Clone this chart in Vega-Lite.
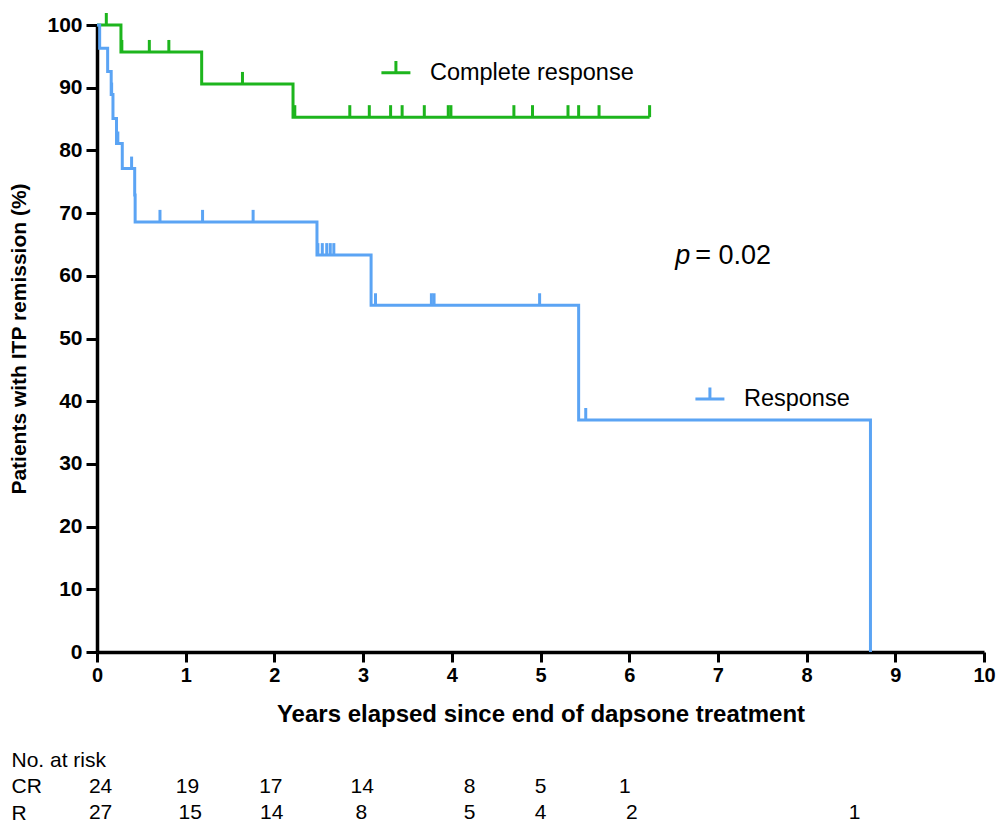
{
  "$schema": "https://vega.github.io/schema/vega-lite/v6.json",
  "padding": {"top": 13, "left": 8, "right": 10, "bottom": 0},
  "background": "white",
  "spacing": 23,
  "config": {"view": {"stroke": null}, "font": "Liberation Sans", "axis": {"grid": false}},
  "datasets": {
    "km": [
      {"group": "CR", "t": 0, "s": 100},
      {"group": "CR", "t": 0.27, "s": 95.7},
      {"group": "CR", "t": 1.18, "s": 90.6},
      {"group": "CR", "t": 2.21, "s": 85.3},
      {"group": "CR", "t": 6.23, "s": 85.3},
      {"group": "R", "t": 0, "s": 100},
      {"group": "R", "t": 0.03, "s": 96.3},
      {"group": "R", "t": 0.12, "s": 92.6},
      {"group": "R", "t": 0.16, "s": 88.9},
      {"group": "R", "t": 0.18, "s": 85.1},
      {"group": "R", "t": 0.22, "s": 81.1},
      {"group": "R", "t": 0.285, "s": 77.1},
      {"group": "R", "t": 0.425, "s": 72.9},
      {"group": "R", "t": 0.43, "s": 68.6},
      {"group": "R", "t": 2.48, "s": 63.3},
      {"group": "R", "t": 3.09, "s": 55.3},
      {"group": "R", "t": 5.43, "s": 37.0},
      {"group": "R", "t": 8.72, "s": 0}
    ],
    "censor": [
      {"group": "CR", "t": 0.105, "s": 100},
      {"group": "CR", "t": 0.28, "s": 95.7},
      {"group": "CR", "t": 0.59, "s": 95.7},
      {"group": "CR", "t": 0.81, "s": 95.7},
      {"group": "CR", "t": 1.64, "s": 90.6},
      {"group": "CR", "t": 2.23, "s": 85.3},
      {"group": "CR", "t": 2.85, "s": 85.3},
      {"group": "CR", "t": 3.07, "s": 85.3},
      {"group": "CR", "t": 3.31, "s": 85.3},
      {"group": "CR", "t": 3.44, "s": 85.3},
      {"group": "CR", "t": 3.69, "s": 85.3},
      {"group": "CR", "t": 3.96, "s": 85.3},
      {"group": "CR", "t": 3.99, "s": 85.3},
      {"group": "CR", "t": 4.70, "s": 85.3},
      {"group": "CR", "t": 4.91, "s": 85.3},
      {"group": "CR", "t": 5.31, "s": 85.3},
      {"group": "CR", "t": 5.43, "s": 85.3},
      {"group": "CR", "t": 5.66, "s": 85.3},
      {"group": "CR", "t": 6.23, "s": 85.3},
      {"group": "R", "t": 0.165, "s": 88.9},
      {"group": "R", "t": 0.235, "s": 81.1},
      {"group": "R", "t": 0.39, "s": 77.1},
      {"group": "R", "t": 0.71, "s": 68.6},
      {"group": "R", "t": 1.19, "s": 68.6},
      {"group": "R", "t": 1.76, "s": 68.6},
      {"group": "R", "t": 2.49, "s": 63.3},
      {"group": "R", "t": 2.54, "s": 63.3},
      {"group": "R", "t": 2.59, "s": 63.3},
      {"group": "R", "t": 2.63, "s": 63.3},
      {"group": "R", "t": 2.67, "s": 63.3},
      {"group": "R", "t": 3.14, "s": 55.3},
      {"group": "R", "t": 3.77, "s": 55.3},
      {"group": "R", "t": 3.80, "s": 55.3},
      {"group": "R", "t": 4.99, "s": 55.3},
      {"group": "R", "t": 5.51, "s": 37.0}
    ],
    "notes": [
      {"kind": "legend", "group": "CR", "label": "Complete response", "t": 3.37, "s": 92.4},
      {"kind": "legend", "group": "R", "label": "Response", "t": 6.91, "s": 40.35},
      {"kind": "pitalic", "group": "", "label": "p", "t": 6.52, "s": 63.2},
      {"kind": "pvalue", "group": "", "label": "= 0.02", "t": 6.745, "s": 63.2}
    ],
    "risk": [
      {"row": "CR", "t": 0.04, "n": "24"},
      {"row": "CR", "t": 1.02, "n": "19"},
      {"row": "CR", "t": 1.96, "n": "17"},
      {"row": "CR", "t": 2.99, "n": "14"},
      {"row": "CR", "t": 4.2, "n": "8"},
      {"row": "CR", "t": 5.0, "n": "5"},
      {"row": "CR", "t": 5.95, "n": "1"},
      {"row": "R", "t": 0.04, "n": "27"},
      {"row": "R", "t": 1.05, "n": "15"},
      {"row": "R", "t": 1.97, "n": "14"},
      {"row": "R", "t": 2.98, "n": "8"},
      {"row": "R", "t": 4.2, "n": "5"},
      {"row": "R", "t": 5.0, "n": "4"},
      {"row": "R", "t": 6.03, "n": "2"},
      {"row": "R", "t": 8.54, "n": "1"}
    ]
  },
  "vconcat": [
    {
      "width": 887,
      "height": 627,
      "encoding": {
        "x": {
          "field": "t", "type": "quantitative",
          "scale": {"domain": [0, 10], "nice": false},
          "title": "Years elapsed since end of dapsone treatment",
          "axis": {
            "values": [0, 1, 2, 3, 4, 5, 6, 7, 8, 9, 10],
            "domainWidth": 3.5, "domainColor": "black",
            "tickWidth": 3, "tickSize": 10, "tickColor": "black",
            "labelFontWeight": "bold", "labelFontSize": 20, "labelColor": "black",
            "labelPadding": 3, "labelFlush": false,
            "titleFontSize": 24, "titleFontWeight": "bold", "titleColor": "black",
            "titlePadding": 17
          }
        },
        "y": {
          "field": "s", "type": "quantitative",
          "scale": {"domain": [0, 100], "nice": false},
          "title": "Patients with ITP remission (%)",
          "axis": {
            "values": [0, 10, 20, 30, 40, 50, 60, 70, 80, 90, 100],
            "domainWidth": 3.5, "domainColor": "black",
            "tickWidth": 3, "tickSize": 11, "tickColor": "black",
            "labelFontWeight": "bold", "labelFontSize": 21, "labelColor": "black",
            "labelPadding": 4, "labelFlush": false,
            "titleFontSize": 21, "titleFontWeight": "bold", "titleColor": "black",
            "titlePadding": 17
          }
        }
      },
      "layer": [
        {
          "data": {"name": "km"},
          "mark": {"type": "line", "interpolate": "step-after", "strokeWidth": 3},
          "encoding": {
            "color": {"field": "group", "type": "nominal", "scale": {"domain": ["CR", "R"], "range": ["#1db51d", "#5ba4f4"]}, "legend": null}
          }
        },
        {
          "data": {"name": "censor"},
          "mark": {"type": "tick", "orient": "vertical", "thickness": 3, "size": 12, "yOffset": -6, "opacity": 1},
          "encoding": {
            "color": {"field": "group", "type": "nominal", "scale": {"domain": ["CR", "R"], "range": ["#1db51d", "#5ba4f4"]}, "legend": null}
          }
        },
        {
          "data": {"name": "notes"},
          "transform": [{"filter": "datum.kind === 'legend'"}],
          "mark": {"type": "point", "shape": "M-1,0H1M0,0V-0.8", "filled": false, "strokeWidth": 3, "size": 841, "opacity": 1},
          "encoding": {
            "color": {"field": "group", "type": "nominal", "scale": {"domain": ["CR", "R"], "range": ["#1db51d", "#5ba4f4"]}, "legend": null}
          }
        },
        {
          "data": {"name": "notes"},
          "transform": [{"filter": "datum.kind === 'legend'"}],
          "mark": {"type": "text", "align": "left", "baseline": "middle", "dx": 34, "fontSize": 23.5, "color": "black"},
          "encoding": {"text": {"field": "label"}}
        },
        {
          "data": {"name": "notes"},
          "transform": [{"filter": "datum.kind === 'pitalic'"}],
          "mark": {"type": "text", "align": "left", "baseline": "middle", "fontSize": 27, "fontStyle": "italic", "color": "black"},
          "encoding": {"text": {"field": "label"}}
        },
        {
          "data": {"name": "notes"},
          "transform": [{"filter": "datum.kind === 'pvalue'"}],
          "mark": {"type": "text", "align": "left", "baseline": "middle", "fontSize": 27, "color": "black"},
          "encoding": {"text": {"field": "label"}}
        }
      ]
    },
    {
      "width": 887,
      "height": 53,
      "data": {"name": "risk"},
      "mark": {"type": "text", "fontSize": 21, "color": "black", "baseline": "middle"},
      "encoding": {
        "x": {"field": "t", "type": "quantitative", "scale": {"domain": [0, 10], "nice": false}, "axis": null},
        "y": {
          "field": "row", "type": "ordinal",
          "scale": {"type": "point", "domain": ["No. at risk", "CR", "R"], "padding": 0},
          "axis": {"domain": false, "ticks": false, "tickSize": 0, "labelAlign": "left", "labelBaseline": "middle", "labelPadding": 86, "labelFontSize": 21, "labelColor": "black", "title": null}
        },
        "text": {"field": "n"}
      }
    }
  ]
}
